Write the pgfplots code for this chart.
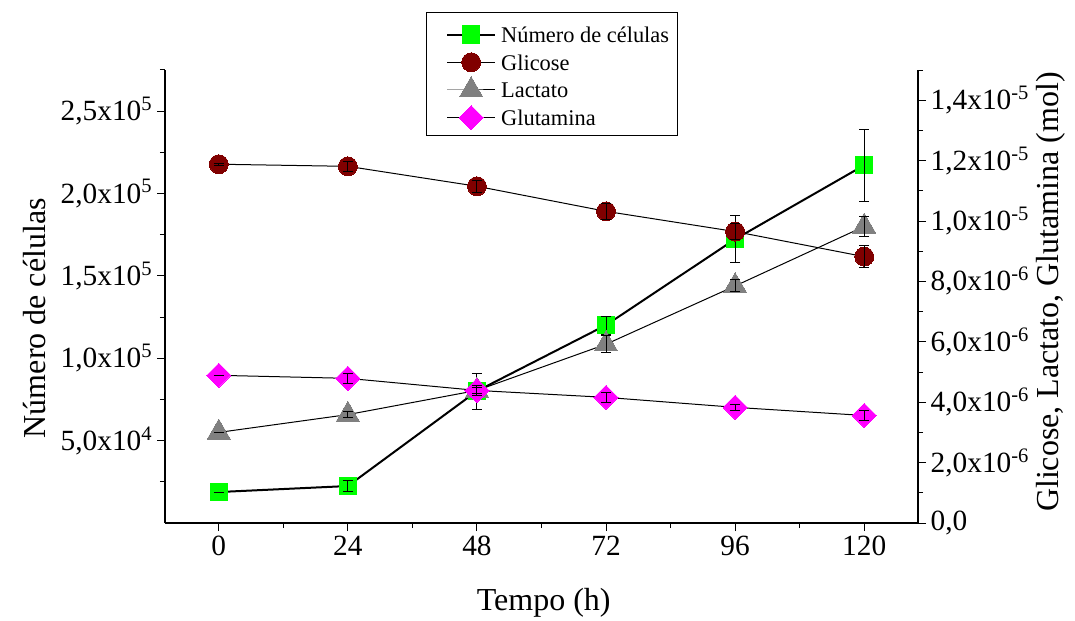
\documentclass[border=0pt]{standalone}
\usepackage{pgfplots}
\pgfplotsset{compat=1.18}
\usepackage{fontspec}
\setmainfont{Liberation Serif}
\definecolor{cgreen}{RGB}{0,255,0}
\definecolor{cred}{RGB}{128,0,0}
\definecolor{cgray}{RGB}{128,128,128}
\definecolor{cmag}{RGB}{255,0,255}

\pgfplotsset{
 base/.style={
   scale only axis, width=564.75pt, height=339.75pt,
   at={(123.75pt,-392.25pt)}, anchor=south west,
   xmin=-10, xmax=130,
   tick align=outside, major tick length=6pt, minor tick length=3.75pt,
   every tick/.style={black, line width=0.75pt},
   axis line style={-, line width=1pt},
   ticklabel style={font=\fontsize{22}{26}\selectfont},
   label style={font=\fontsize{24}{28}\selectfont},
   scaled ticks=false,
   clip=false, clip marker paths=true,
 },
 errb/.style={draw=none, mark=none, forget plot,
   error bars/.cd, y dir=both, y explicit,
   error bar style={draw=black, line width=0.75pt, solid},
   error mark options={rotate=90, mark size=3.75pt, line width=0.75pt, draw=black}},
 legend image code/.code={\path[draw=none, fill=none] (0pt,0pt) -- (50pt,0pt);
   \begin{pgfinterruptboundingbox}\draw[mark repeat=2,mark phase=2,#1] plot coordinates {(12pt,-1.5pt) (30pt,-1.5pt) (48pt,-1.5pt)};\end{pgfinterruptboundingbox}},
}

\begin{document}
\begin{tikzpicture}
\begin{axis}[base,
  axis x line*=bottom, axis y line*=left,
  ymin=0, ymax=2.75e5,
  xtick={0,24,48,72,96,120}, xticklabels={0,24,48,72,96,120},
  minor xtick={12,36,60,84,108},
  ytick={5e4,1e5,1.5e5,2e5,2.5e5},
  yticklabels={{5,0x10\textsuperscript{4}},{1,0x10\textsuperscript{5}},{1,5x10\textsuperscript{5}},{2,0x10\textsuperscript{5}},{2,5x10\textsuperscript{5}}},
  minor ytick={2.5e4,7.5e4,1.25e5,1.75e5,2.25e5,2.75e5},
  xlabel={Tempo (h)}, ylabel={Número de células},
  xlabel style={at={(axis description cs:0.503,-0.177)}, anchor=center},
  ylabel style={at={(axis description cs:-0.1726,0.452)}, anchor=center},
]
\addplot[black, line width=1.5pt, mark=square*, mark size=6.4pt, mark options={solid, fill=cgreen, draw=cgreen, line width=0pt}] coordinates {
(0,18800) (24,22450) (48,80100) (72,120150) (96,172300) (120,217200)};
\addplot[errb] coordinates {
(0,18800) +- (0,0) (24,22450) +- (0,3600) (48,80100) +- (0,10900) (72,120150) +- (0,5500) (96,172300) +- (0,14300) (120,217200) +- (0,21800)};
\end{axis}

\begin{axis}[base,
  axis x line=none, axis y line*=right,
  ymin=0, ymax=1.5e-5,
  ytick={0,2e-6,4e-6,6e-6,8e-6,1e-5,1.2e-5,1.4e-5},
  yticklabels={{0,0},{2,0x10\textsuperscript{-6}},{4,0x10\textsuperscript{-6}},{6,0x10\textsuperscript{-6}},{8,0x10\textsuperscript{-6}},{1,0x10\textsuperscript{-5}},{1,2x10\textsuperscript{-5}},{1,4x10\textsuperscript{-5}}},
  minor ytick={1e-6,3e-6,5e-6,7e-6,9e-6,1.1e-5,1.3e-5,1.5e-5},
  ylabel={Glicose, Lactato, Glutamina (mol)},
  ylabel style={at={(axis description cs:1.177,0.51)}, anchor=center},
  legend style={at={(axis description cs:0.3466,1.128)}, anchor=north west, draw=black, line width=0.75pt,
    font=\fontsize{16.8}{20}\selectfont, row sep=5.8pt, inner xsep=3.5pt, inner ysep=7.5pt,
    nodes={inner xsep=2.5pt, inner ysep=0pt, text height=15pt, text depth=0pt}},
  legend cell align=left,
]
\addlegendimage{black, line width=1.5pt, mark=square*, mark size=6.4pt, mark options={solid, fill=cgreen, draw=cgreen, line width=0pt}}
\addlegendentry{Número de células}
\addplot[black, line width=0.75pt, mark=*, mark size=7.1pt, mark options={solid, fill=cred, draw=cred, line width=0pt}] coordinates {
(0,1.188e-5) (24,1.181e-5) (48,1.115e-5) (72,1.032e-5) (96,9.65e-6) (120,8.82e-6)};
\addlegendentry{Glicose}
\addplot[black, line width=0.75pt, mark=triangle*, mark size=10pt, mark options={solid, fill=cgray, draw=cgray, line width=0pt}] coordinates {
(0,3.0e-6) (24,3.59e-6) (48,4.39e-6) (72,5.92e-6) (96,7.85e-6) (120,9.82e-6)};
\addlegendentry{Lactato}
\addplot[black, line width=0.75pt, mark=square*, mark size=6.4pt, mark options={solid, fill=cmag, draw=cmag, line width=0pt, rotate=45}] coordinates {
(0,4.89e-6) (24,4.79e-6) (48,4.39e-6) (72,4.16e-6) (96,3.83e-6) (120,3.56e-6)};
\addlegendentry{Glutamina}
\addplot[errb] coordinates {
(0,1.188e-5) +- (0,3e-8) (24,1.181e-5) +- (0,1.7e-7) (48,1.115e-5) +- (0,2e-7) (72,1.032e-5) +- (0,2.7e-7) (96,9.65e-6) +- (0,2.7e-7) (120,8.82e-6) +- (0,3.7e-7)};
\addplot[errb] coordinates {
(0,3.0e-6) +- (0,0) (24,3.59e-6) +- (0,1e-7) (48,4.39e-6) +- (0,1e-7) (72,5.92e-6) +- (0,2.8e-7) (96,7.85e-6) +- (0,2e-7) (120,9.82e-6) +- (0,3.3e-7)};
\addplot[errb] coordinates {
(0,4.89e-6) +- (0,0) (24,4.79e-6) +- (0,1.7e-7) (48,4.39e-6) +- (0,1.7e-7) (72,4.16e-6) +- (0,1.7e-7) (96,3.83e-6) +- (0,1e-7) (120,3.56e-6) +- (0,1.7e-7)};
\end{axis}
\pgfresetboundingbox
\path[use as bounding box] (0,0) rectangle (806.25pt,-465.75pt);
\end{tikzpicture}
\end{document}
